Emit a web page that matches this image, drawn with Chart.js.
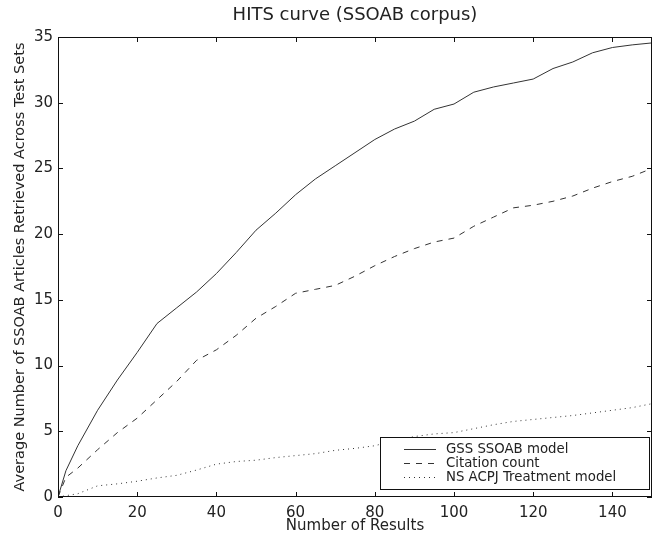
<!DOCTYPE html>
<html>
<head>
<meta charset="utf-8">
<script src="https://cdn.jsdelivr.net/npm/chart.js@4"></script>
<style>
  html, body { margin: 0; padding: 0; background: #fff; }
  #wrap { width: 660px; height: 535px; }
</style>
</head>
<body>
<div id="wrap"><canvas id="hits"></canvas></div>
<script>
// number of results (x values shared by all curves)
var results = [0, 2, 5, 10, 15, 20, 25, 30, 35, 40, 45, 50, 55, 60, 65, 70, 75,
               80, 85, 90, 95, 100, 105, 110, 115, 120, 125, 130, 135, 140, 145, 150];

// averages
var gssSsoab = [0, 2.0, 3.9, 6.6, 8.9, 11.0, 13.2, 14.4, 15.6, 17.0, 18.6, 20.3, 21.6, 23.0, 24.2, 25.2, 26.2,
                27.2, 28.0, 28.6, 29.5, 29.9, 30.8, 31.2, 31.5, 31.8, 32.6, 33.1, 33.8, 34.2, 34.4, 34.55];
var citationCount = [0, 1.5, 2.2, 3.6, 4.9, 6.0, 7.4, 8.8, 10.4, 11.2, 12.3, 13.6, 14.5, 15.5, 15.8, 16.1, 16.8,
                     17.6, 18.3, 18.9, 19.4, 19.7, 20.6, 21.3, 22.0, 22.2, 22.5, 22.9, 23.5, 24.0, 24.4, 25.0];
var nsAcpj = [0, 0.1, 0.25, 0.85, 1.0, 1.2, 1.45, 1.65, 2.05, 2.5, 2.7, 2.8, 3.0, 3.15, 3.3, 3.55, 3.7,
              3.9, 4.3, 4.6, 4.8, 4.9, 5.2, 5.5, 5.75, 5.9, 6.05, 6.2, 6.4, 6.6, 6.8, 7.1];

var seriesNames = ['GSS SSOAB model', 'Citation count', 'NS ACPJ Treatment model'];
var xTicks = [0, 20, 40, 60, 80, 100, 120, 140];
var yTicks = [0, 5, 10, 15, 20, 25, 30, 35];

var fontFam = '"DejaVu Sans", sans-serif';
var ink = '#222';

function pts(ys) {
    return results.map(function (x, i) { return { x: x, y: ys[i] }; });
}

// frame, inward ticks on all four sides, and the boxed legend inside the plot
var mplLook = {
    id: 'mplLook',
    afterDatasetsDraw: function (chart) {
        var ctx = chart.ctx, a = chart.chartArea;
        var sx = chart.scales.x, sy = chart.scales.y;
        ctx.save();
        ctx.strokeStyle = '#111';
        ctx.lineWidth = 1;
        ctx.strokeRect(a.left + 0.5, a.top + 0.5, a.right - a.left - 1, a.bottom - a.top - 1);

        var tl = 5;
        ctx.beginPath();
        sx.ticks.forEach(function (t, i) {
            var px = Math.round(sx.getPixelForTick(i)) + 0.5;
            ctx.moveTo(px, a.bottom); ctx.lineTo(px, a.bottom - tl);
            ctx.moveTo(px, a.top); ctx.lineTo(px, a.top + tl);
        });
        sy.ticks.forEach(function (t, i) {
            var py = Math.round(sy.getPixelForTick(i)) + 0.5;
            ctx.moveTo(a.left, py); ctx.lineTo(a.left + tl, py);
            ctx.moveTo(a.right, py); ctx.lineTo(a.right - tl, py);
        });
        ctx.stroke();

        // legend box
        var w = 269, h = 52;
        var bx = a.right - 3 - w, by = a.bottom - 8 - h;
        ctx.fillStyle = '#fff';
        ctx.fillRect(bx, by, w, h);
        ctx.strokeStyle = '#111';
        ctx.strokeRect(bx + 0.5, by + 0.5, w, h);
        ctx.font = '13.3px ' + fontFam;
        ctx.textBaseline = 'middle';
        chart.data.datasets.forEach(function (ds, i) {
            var yy = by + 12 + i * 14 + 0.5;
            ctx.strokeStyle = ds.borderColor;
            ctx.lineWidth = ds.borderWidth;
            ctx.setLineDash(ds.borderDash || []);
            ctx.beginPath();
            ctx.moveTo(bx + 24, yy);
            ctx.lineTo(bx + 56, yy);
            ctx.stroke();
            ctx.setLineDash([]);
            ctx.fillStyle = ink;
            ctx.fillText(ds.label, bx + 66, yy);
        });
        ctx.restore();
    }
};

new Chart(document.getElementById('hits'), {
    type: 'line',
    data: {
        datasets: [
            { label: seriesNames[0], data: pts(gssSsoab), borderColor: '#333', borderWidth: 1, pointRadius: 0, tension: 0 },
            { label: seriesNames[1], data: pts(citationCount), borderColor: '#333', borderWidth: 1, borderDash: [6, 6], pointRadius: 0, tension: 0 },
            { label: seriesNames[2], data: pts(nsAcpj), borderColor: '#333', borderWidth: 1, borderDash: [1, 4], pointRadius: 0, tension: 0 }
        ]
    },
    options: {
        responsive: true,
        maintainAspectRatio: false,
        animation: false,
        layout: { padding: { left: 0, right: 8, top: 0, bottom: 0 } },
        plugins: {
            legend: { display: false },
            tooltip: { enabled: false },
            title: {
                display: true,
                fullSize: false,
                text: 'HITS curve (SSOAB corpus)',
                color: ink,
                font: { family: fontFam, size: 18, weight: 'normal' },
                padding: { top: 5, bottom: 10.4 }
            }
        },
        scales: {
            x: {
                type: 'linear',
                min: 0, max: 150,
                grid: { display: false, drawTicks: false },
                border: { display: false },
                afterBuildTicks: function (s) { s.ticks = xTicks.map(function (v) { return { value: v }; }); },
                afterFit: function (s) { s.height = 38; },
                ticks: { color: ink, padding: 7, font: { family: fontFam, size: 15 }, maxRotation: 0 },
                title: { display: true, text: 'Number of Results', color: ink, padding: { top: 0, bottom: 0 },
                         font: { family: fontFam, size: 15 } }
            },
            y: {
                min: 0, max: 35,
                grid: { display: false, drawTicks: false },
                border: { display: false },
                afterBuildTicks: function (s) { s.ticks = yTicks.map(function (v) { return { value: v }; }); },
                afterFit: function (s) { s.width = 58; },
                ticks: { color: ink, padding: 5, font: { family: fontFam, size: 15 } },
                title: { display: true, text: 'Average Number of SSOAB Articles Retrieved Across Test Sets', color: ink,
                         padding: { top: 12, bottom: 0 }, font: { family: fontFam, size: 14.5 } }
            }
        }
    },
    plugins: [mplLook]
});
</script>
</body>
</html>
